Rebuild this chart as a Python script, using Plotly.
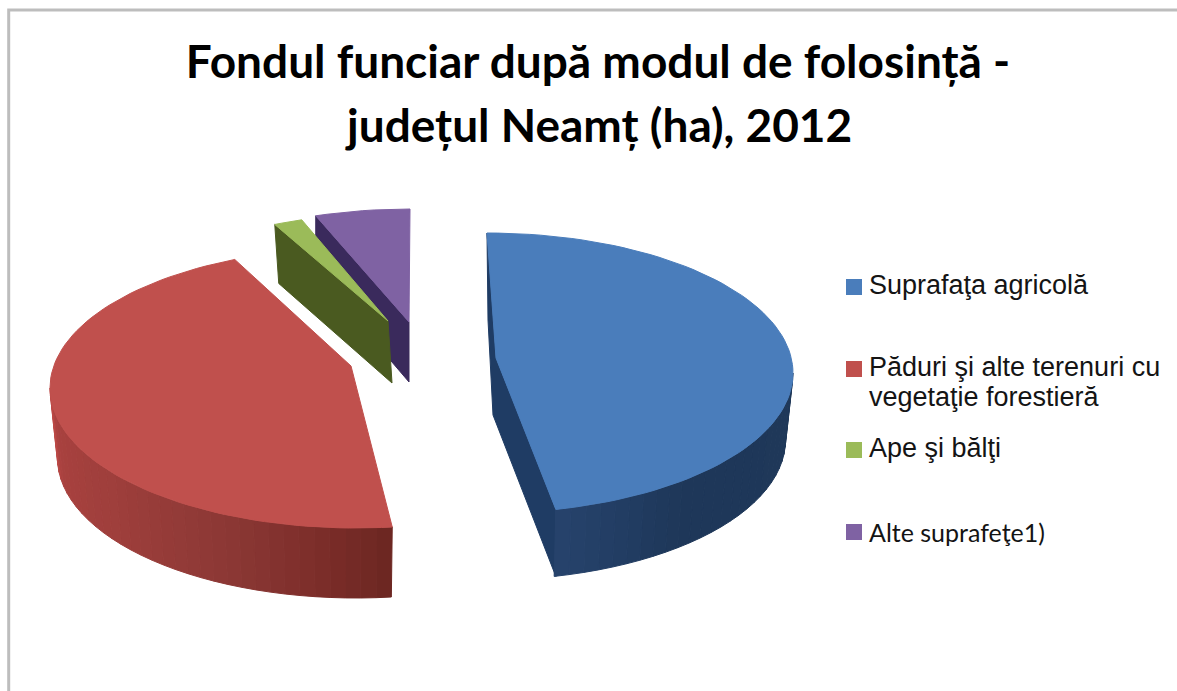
import math
import plotly.graph_objects as go

# ---- data (ha) ----
categories = ["Suprafaţa agricolă", "Păduri şi alte terenuri cu<br>vegetaţie forestieră", "Ape şi bălţi", "Alte suprafeţe1)"]
values = [278300, 272400, 9000, 29900]
title_lines = ["Fondul funciar după modul de folosință -", "județul Neamț (ha), 2012"]

# ---- styling / geometry of the drawing ----
top_colors = ["#4a7dbb", "#c0504d", "#9bbb59", "#7f62a3"]
SWEEP = 353.8
GAPS = [0, 6.2, 0, 0]
RX, RY = 306, 140
RX_BOTTOM = 298.5
centers = [(487, 373), (356, 388), (396, 353), (410, 349)]
apexes = [(496, 358), (351, 366), (388, 321), (409, 322)]
depths = [67, 70, 62, 60]
cut_shift = [0, 0, 4, 0]
side_stops = [
    [(90, "#1f3859"), (140, "#1e3759"), (167, "#26436c")],
    [(170, "#672520"), (185, "#7a2c28"), (205, "#8c3835"), (235, "#a03f3c"), (258, "#a8413f"), (270, "#c04a47")],
    None, None,
]
cut_colors = ["#1f3c64", None, "#4a5a20", "#3a2a5c"]


def hex2rgb(h):
    return tuple(int(h[i:i + 2], 16) for i in (1, 3, 5))


def ramp(stops, a):
    if a <= stops[0][0]:
        return stops[0][1]
    for (a0, c0), (a1, c1) in zip(stops, stops[1:]):
        if a <= a1:
            t = (a - a0) / (a1 - a0)
            r = [round(p + (q - p) * t) for p, q in zip(hex2rgb(c0), hex2rgb(c1))]
            return "rgb(%d,%d,%d)" % tuple(r)
    return stops[-1][1]


def pt(c, a, dy=0, rx=RX):
    r = math.radians(a)
    return c[0] + rx * math.sin(r), c[1] - RY * math.cos(r) + dy


fig = go.Figure()


def poly(pts, color):
    xs = [p[0] for p in pts] + [pts[0][0]]
    ys = [p[1] for p in pts] + [pts[0][1]]
    fig.add_trace(go.Scatter(x=xs, y=ys, mode="lines", fill="toself", fillcolor=color,
                             line=dict(color=color, width=1), hoverinfo="skip", showlegend=False))


total = sum(values)
angles = []
a = 0
for v, g in zip(values, GAPS):
    a += g
    angles.append((a, a + v / total * SWEEP))
    a = angles[-1][1]

for i in [3, 2, 1, 0]:
    c, ap, d = centers[i], apexes[i], depths[i]
    a0, a1 = angles[i]
    # cut faces
    if i == 0:
        p, q = pt(c, a1), pt(c, a0)
        poly([q, ap, p, (p[0], p[1] + d), (ap[0] - 3, ap[1] + 57), (q[0] + 1, q[1] + 87)], cut_colors[i])
    elif i >= 2:
        p = pt(c, a0)
        s = cut_shift[i]
        poly([p, ap, (ap[0] + s, ap[1] + d), (p[0] + s, p[1] + d - 3)], cut_colors[i])
    # outer side, drawn in narrow shaded bands
    if side_stops[i]:
        lo, hi = max(a0, 90), min(a1, 270)
        n = int((hi - lo) / 3) + 1
        for k in range(n):
            b0 = lo + (hi - lo) * k / n
            b1 = lo + (hi - lo) * (k + 1) / n
            poly([pt(c, b0), pt(c, b1), pt(c, b1, d, RX_BOTTOM), pt(c, b0, d, RX_BOTTOM)],
                 ramp(side_stops[i], (b0 + b1) / 2))
    # top face
    n = max(int((a1 - a0) / 2), 4)
    arc = [pt(c, a0 + (a1 - a0) * k / n) for k in range(n + 1)]
    poly([ap] + arc, top_colors[i])

# legend
legend_x = 854
legend_y = [287, 369, 450, 532]
text_y = [[285], [367, 397], [448], [532]]
text_font = ["Liberation Sans", "Liberation Sans", "Liberation Sans", "Lato"]
text_size = [27, 27, 27, 25]
for name, col, ly in zip(categories, top_colors, legend_y):
    fig.add_trace(go.Scatter(x=[legend_x], y=[ly], mode="markers", hoverinfo="skip", showlegend=False,
                             marker=dict(symbol="square", size=16, color=col), name=name))
annotations = []
for name, ys, f, s in zip(categories, text_y, text_font, text_size):
    for t, ty in zip(name.split("<br>"), ys):
        annotations.append(dict(x=867, y=ty, xref="x", yref="y", text=t, showarrow=False, xanchor="left",
                                yanchor="middle", align="left", font=dict(family=f, size=s, color="#141414")))
annotations.append(dict(x=598, y=124, xref="x", yref="y", text=title_lines[1], showarrow=False,
                        xanchor="center", yanchor="middle",
                        font=dict(family="Lato", size=46, color="black", weight="bold")))

fig.update_layout(
    width=1177, height=691, margin=dict(l=0, r=0, t=0, b=0),
    paper_bgcolor="white", plot_bgcolor="white", showlegend=False,
    title=dict(text=title_lines[0], x=598 / 1177, xanchor="center", y=1 - 62 / 691, yanchor="middle",
               font=dict(family="Lato", size=46, color="black", weight="bold")),
    xaxis=dict(range=[0, 1177], visible=False, fixedrange=True),
    yaxis=dict(range=[691, 0], visible=False, fixedrange=True),
    annotations=annotations,
    shapes=[dict(type="path", path="M 8.7 700 L 8.7 10 L 1185 10", xref="x", yref="y",
                 line=dict(color="#bdbdbd", width=3), layer="below")],
)
fig.write_html("out.html", config={"displayModeBar": False}, post_script="document.body.style.margin='0';")
